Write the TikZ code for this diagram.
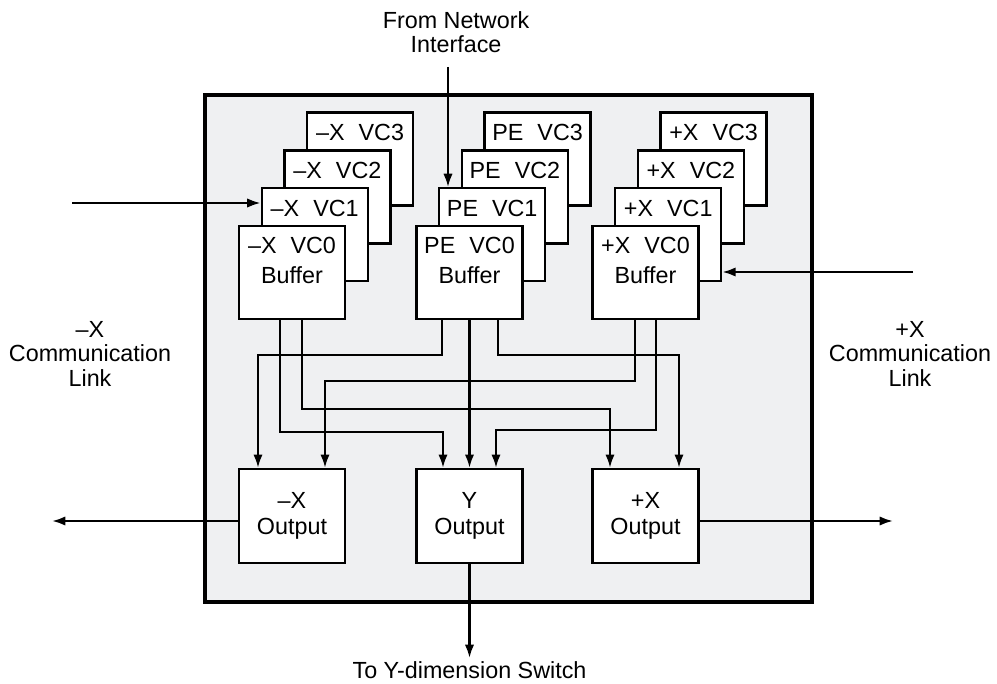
\documentclass[tikz,border=0pt]{standalone}
\usepackage{fontspec}
\setmainfont{Liberation Sans}
\usepackage{xcolor}
\usetikzlibrary{arrows.meta,calc}

\definecolor{switchgray}{RGB}{239,240,242}
\newcommand{\vcname}[2]{#1\hspace{0.6em}#2}
\newcommand{\vcbuf}[2]{\begin{tabular}[t]{@{}c@{}}\vcname{#1}{#2}\\Buffer\end{tabular}}

\tikzset{
  buf/.style={draw, line width=1.7pt, fill=white, minimum width=79.5pt, inner sep=0pt,
    text height=21pt, text depth=48.75pt, font=\fontsize{17.5}{22}\selectfont},
  outbox/.style={draw, line width=1.7pt, fill=white, minimum width=79.5pt, minimum height=70.5pt,
    inner sep=0pt, align=center, font=\fontsize{17.5}{19.5}\selectfont},
  lbl/.style={align=center, inner sep=0pt, font=\fontsize{17.5}{18.5}\selectfont},
  wire/.style={line width=1.7pt, -{Latex[length=10pt,width=7pt]}}
}

\begin{document}
\begin{tikzpicture}[x=0.75pt,y=-0.75pt]
\useasboundingbox (0,0) rectangle (997,684);

% Switch
\draw[line width=2.6pt, fill=switchgray] (205,95) rectangle (812,602);

% -X buffers
\node[buf] (mxb3) at (360.1,159.1) {\vcname{--X}{VC3}};
\node[buf] (mxb2) at (337.4,196.9) {\vcname{--X}{VC2}};
\node[buf] (mxb1) at (314.7,234.7) {\vcname{--X}{VC1}};
\node[buf] (mxb0) at (292,272.5) {\vcbuf{--X}{VC0}};

% PE buffers
\node[buf] (peb3) at (537.6,159.1) {\vcname{PE}{VC3}};
\node[buf] (peb2) at (514.9,196.9) {\vcname{PE}{VC2}};
\node[buf] (peb1) at (492.2,234.7) {\vcname{PE}{VC1}};
\node[buf] (peb0) at (469.5,272.5) {\vcbuf{PE}{VC0}};

% +X buffers
\node[buf] (pxb3) at (713.6,159.1) {\vcname{+X}{VC3}};
\node[buf] (pxb2) at (690.9,196.9) {\vcname{+X}{VC2}};
\node[buf] (pxb1) at (668.2,234.7) {\vcname{+X}{VC1}};
\node[buf] (pxb0) at (645.5,272.5) {\vcbuf{+X}{VC0}};

% Outputs
\node[outbox] (mxout) at (292,516) {--X\\Output};
\node[outbox] (yout) at (469.5,516) {Y\\Output};
\node[outbox] (pxout) at (645.5,516) {+X\\Output};

% Labels
\node[lbl, anchor=north] (netlbl) at (456,11) {From Network\\Interface};
\node[lbl, anchor=north] (mxlink) at (90,321) {--X\\Communication\\Link};
\node[lbl, anchor=north] (pxlink) at (910,321) {+X\\Communication\\Link};
\node[lbl, anchor=base] (ylbl) at (469.5,678) {To Y-dimension Switch};

% Inputs
\coordinate (mxin) at (72,203);
\coordinate (pxin) at (913,272);
\coordinate (nein) at (448,67);
\draw[wire] (mxin) -- (mxin -| mxb1.west);
\draw[wire] (pxin) -- (pxin -| pxb1.east);
\draw[wire] (nein) -- (nein |- peb1.north);

% Crossbar
\draw[wire] ($(peb0.south)+(-27.5,0)$) -- ++(0,35) -| ($(mxout.north)+(-34,0)$);
\draw[wire] ($(peb0.south)+(28.5,0)$) -- ++(0,35) -| ($(pxout.north)+(33.5,0)$);
\draw[wire] ($(pxb0.south)+(-10.5,0)$) -- ++(0,61) -| ($(mxout.north)+(33,0)$);
\draw[wire] ($(mxb0.south)+(10,0)$) -- ++(0,89) -| ($(pxout.north)+(-35.5,0)$);
\draw[wire] ($(mxb0.south)+(-12,0)$) -- ++(0,112) -| ($(yout.north)+(-26.5,0)$);
\draw[wire] ($(pxb0.south)+(10.5,0)$) -- ++(0,110) -| ($(yout.north)+(26.5,0)$);
\draw[wire] (peb0.south) -- (yout.north);

% Outputs to links
\coordinate (mxend) at (52,521);
\coordinate (pxend) at (893,521);
\coordinate (yend) at (469.5,658);
\draw[wire] (mxend -| mxout.west) -- (mxend);
\draw[wire] (pxend -| pxout.east) -- (pxend);
\draw[wire] (yout.south) -- (yend);
\end{tikzpicture}
\end{document}
